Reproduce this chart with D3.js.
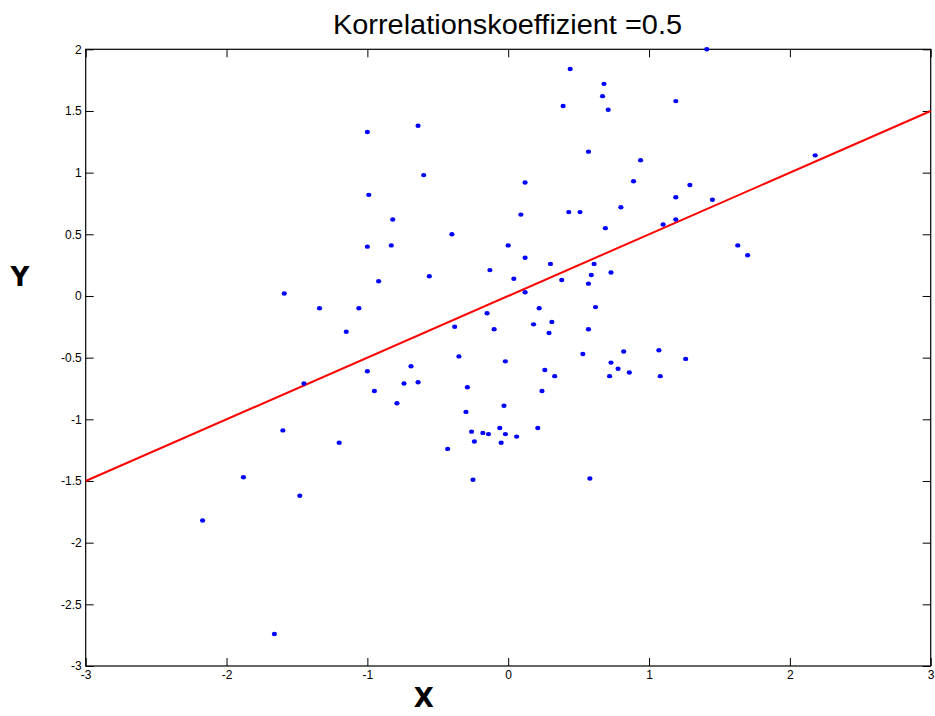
<!DOCTYPE html>
<html>
<head>
<meta charset="utf-8">
<script src="https://cdn.jsdelivr.net/npm/d3@7"></script>
<style>
  body { margin: 0; background: #fff; }
  svg { display: block; }
  .tick text { font-family: "Liberation Sans", Arial, sans-serif; font-size: 12px; fill: #000; }
</style>
</head>
<body>
<svg id="chart" width="935" height="716"></svg>
<script>
// Sample values
const xValues = [
  -2.17, -1.88, -1.66, -1.60, -1.59, -1.48, -1.45, -1.34, -1.20, -1.15, -1.06,
  -1.00, -0.99, -1.00, -1.00, -0.92, -0.95, -0.83, -0.82, -0.79, -0.74, -0.69,
  -0.64, -0.64, -0.60, -0.56, -0.43, -0.40, -0.38, -0.35, -0.30, -0.29, -0.26,
  -0.25, -0.24, -0.18, -0.15, -0.13, -0.14, -0.10, -0.06, -0.05, -0.03, -0.02,
  -0.02, 0.00, 0.04, 0.06, 0.09, 0.12, 0.12, 0.12, 0.18, 0.21, 0.22, 0.24, 0.26,
  0.29, 0.30, 0.31, 0.33, 0.38, 0.39, 0.43, 0.44, 0.51, 0.53, 0.57, 0.57, 0.57,
  0.58, 0.59, 0.61, 0.62, 0.67, 0.68, 0.69, 0.71, 0.72, 0.73, 0.73, 0.78, 0.80,
  0.82, 0.86, 0.89, 0.94, 1.07, 1.08, 1.10, 1.19, 1.19, 1.19, 1.26, 1.29, 1.41,
  1.45, 1.63, 1.70, 2.18
];
const yValues = [
  -1.82, -1.47, -2.74, -1.09, 0.02, -1.62, -0.71, -0.10, -1.19, -0.29, -0.10,
  1.33, 0.82, 0.40, -0.61, 0.12, -0.77, 0.41, 0.62, -0.87, -0.71, -0.57,
  -0.70, 1.38, 0.98, 0.16, -1.24, 0.50, -0.25, -0.49, -0.94, -0.74, -1.10,
  -1.49, -1.18, -1.11, -0.14, 0.21, -1.12, -0.27, -1.07, -1.19, -0.89, -0.53,
  -1.12, 0.41, 0.14, -1.14, 0.66, 0.31, 0.03, 0.92, -0.23, -1.07, -0.10, -0.77, -0.60,
  -0.30, 0.26, -0.21, -0.65, 0.13, 1.54, 0.68, 1.84, 0.68, -0.47, 1.17, 0.10, -0.27,
  -1.48, 0.17, 0.26, -0.09, 1.62, 1.72, 0.55, 1.51, -0.65, 0.19, -0.54, -0.59, 0.72,
  -0.45, -0.62, 0.93, 1.10, -0.44, -0.65, 0.58, 1.58, 0.80, 0.62, -0.51, 0.90, 2.00,
  0.78, 0.41, 0.33, 1.14
];
const correlation = 0.5;
const xTicks = [-3, -2, -1, 0, 1, 2, 3];
const yTicks = [2, 1.5, 1, 0.5, 0, -0.5, -1, -1.5, -2, -2.5, -3];
const fitLine = [[-3, -1.5], [3, 1.5]];

const svg = d3.select("#chart");
const plotLeft = 85.7, plotRight = 930.7, plotTop = 49.3, plotBottom = 666;

const x = d3.scaleLinear().domain([-3, 3]).range([plotLeft, plotRight]);
const y = d3.scaleLinear().domain([-3, 2]).range([plotBottom, plotTop]);
const tickLen = 8;

// Axes with inward ticks on all four sides
const fmt = d => String(d);
svg.append("g").attr("transform", `translate(0,${plotBottom})`)
  .call(d3.axisBottom(x).tickValues(xTicks).tickSize(-tickLen).tickPadding(4).tickFormat(fmt))
  .call(g => g.select(".domain").remove());
svg.append("g").attr("transform", `translate(0,${plotTop})`)
  .call(d3.axisTop(x).tickValues(xTicks).tickSize(-tickLen).tickFormat(""))
  .call(g => g.select(".domain").remove());
svg.append("g").attr("transform", `translate(${plotLeft},0)`)
  .call(d3.axisLeft(y).tickValues(yTicks).tickSize(-tickLen).tickPadding(4).tickFormat(fmt))
  .call(g => g.select(".domain").remove());
svg.append("g").attr("transform", `translate(${plotRight},0)`)
  .call(d3.axisRight(y).tickValues(yTicks).tickSize(-tickLen).tickFormat(""))
  .call(g => g.select(".domain").remove());

svg.selectAll(".tick line").attr("stroke", "#000");

// Plot box
svg.append("rect")
  .attr("x", plotLeft).attr("y", plotTop)
  .attr("width", plotRight - plotLeft).attr("height", plotBottom - plotTop)
  .attr("fill", "none").attr("stroke", "#000").attr("stroke-width", 1.2);

// Regression line
svg.append("path")
  .datum(fitLine)
  .attr("d", d3.line().x(d => x(d[0])).y(d => y(d[1])))
  .attr("stroke", "#ff0000").attr("stroke-width", 2).attr("fill", "none");

// Sample points
svg.append("g").selectAll("ellipse")
  .data(xValues.map((v, i) => [v, yValues[i]]))
  .join("ellipse")
  .attr("cx", d => x(d[0])).attr("cy", d => y(d[1]))
  .attr("rx", 2.6).attr("ry", 2.2)
  .attr("fill", "#0000ff");

// Title and axis labels
svg.append("text")
  .attr("x", 507.5).attr("y", 34)
  .attr("text-anchor", "middle")
  .attr("font-family", "Liberation Sans, Arial, sans-serif")
  .attr("font-size", 27.5)
  .attr("textLength", 349)
  .attr("lengthAdjust", "spacingAndGlyphs")
  .text("Korrelationskoeffizient =" + correlation);

svg.append("text")
  .attr("x", 423.7).attr("y", 707)
  .attr("text-anchor", "middle")
  .attr("font-family", "DejaVu Sans, sans-serif")
  .attr("font-weight", "bold")
  .attr("font-size", 26)
  .text("X");

svg.append("text")
  .attr("x", 20).attr("y", 286)
  .attr("text-anchor", "middle")
  .attr("font-family", "DejaVu Sans, sans-serif")
  .attr("font-weight", "bold")
  .attr("font-size", 26)
  .text("Y");
</script>
</body>
</html>
